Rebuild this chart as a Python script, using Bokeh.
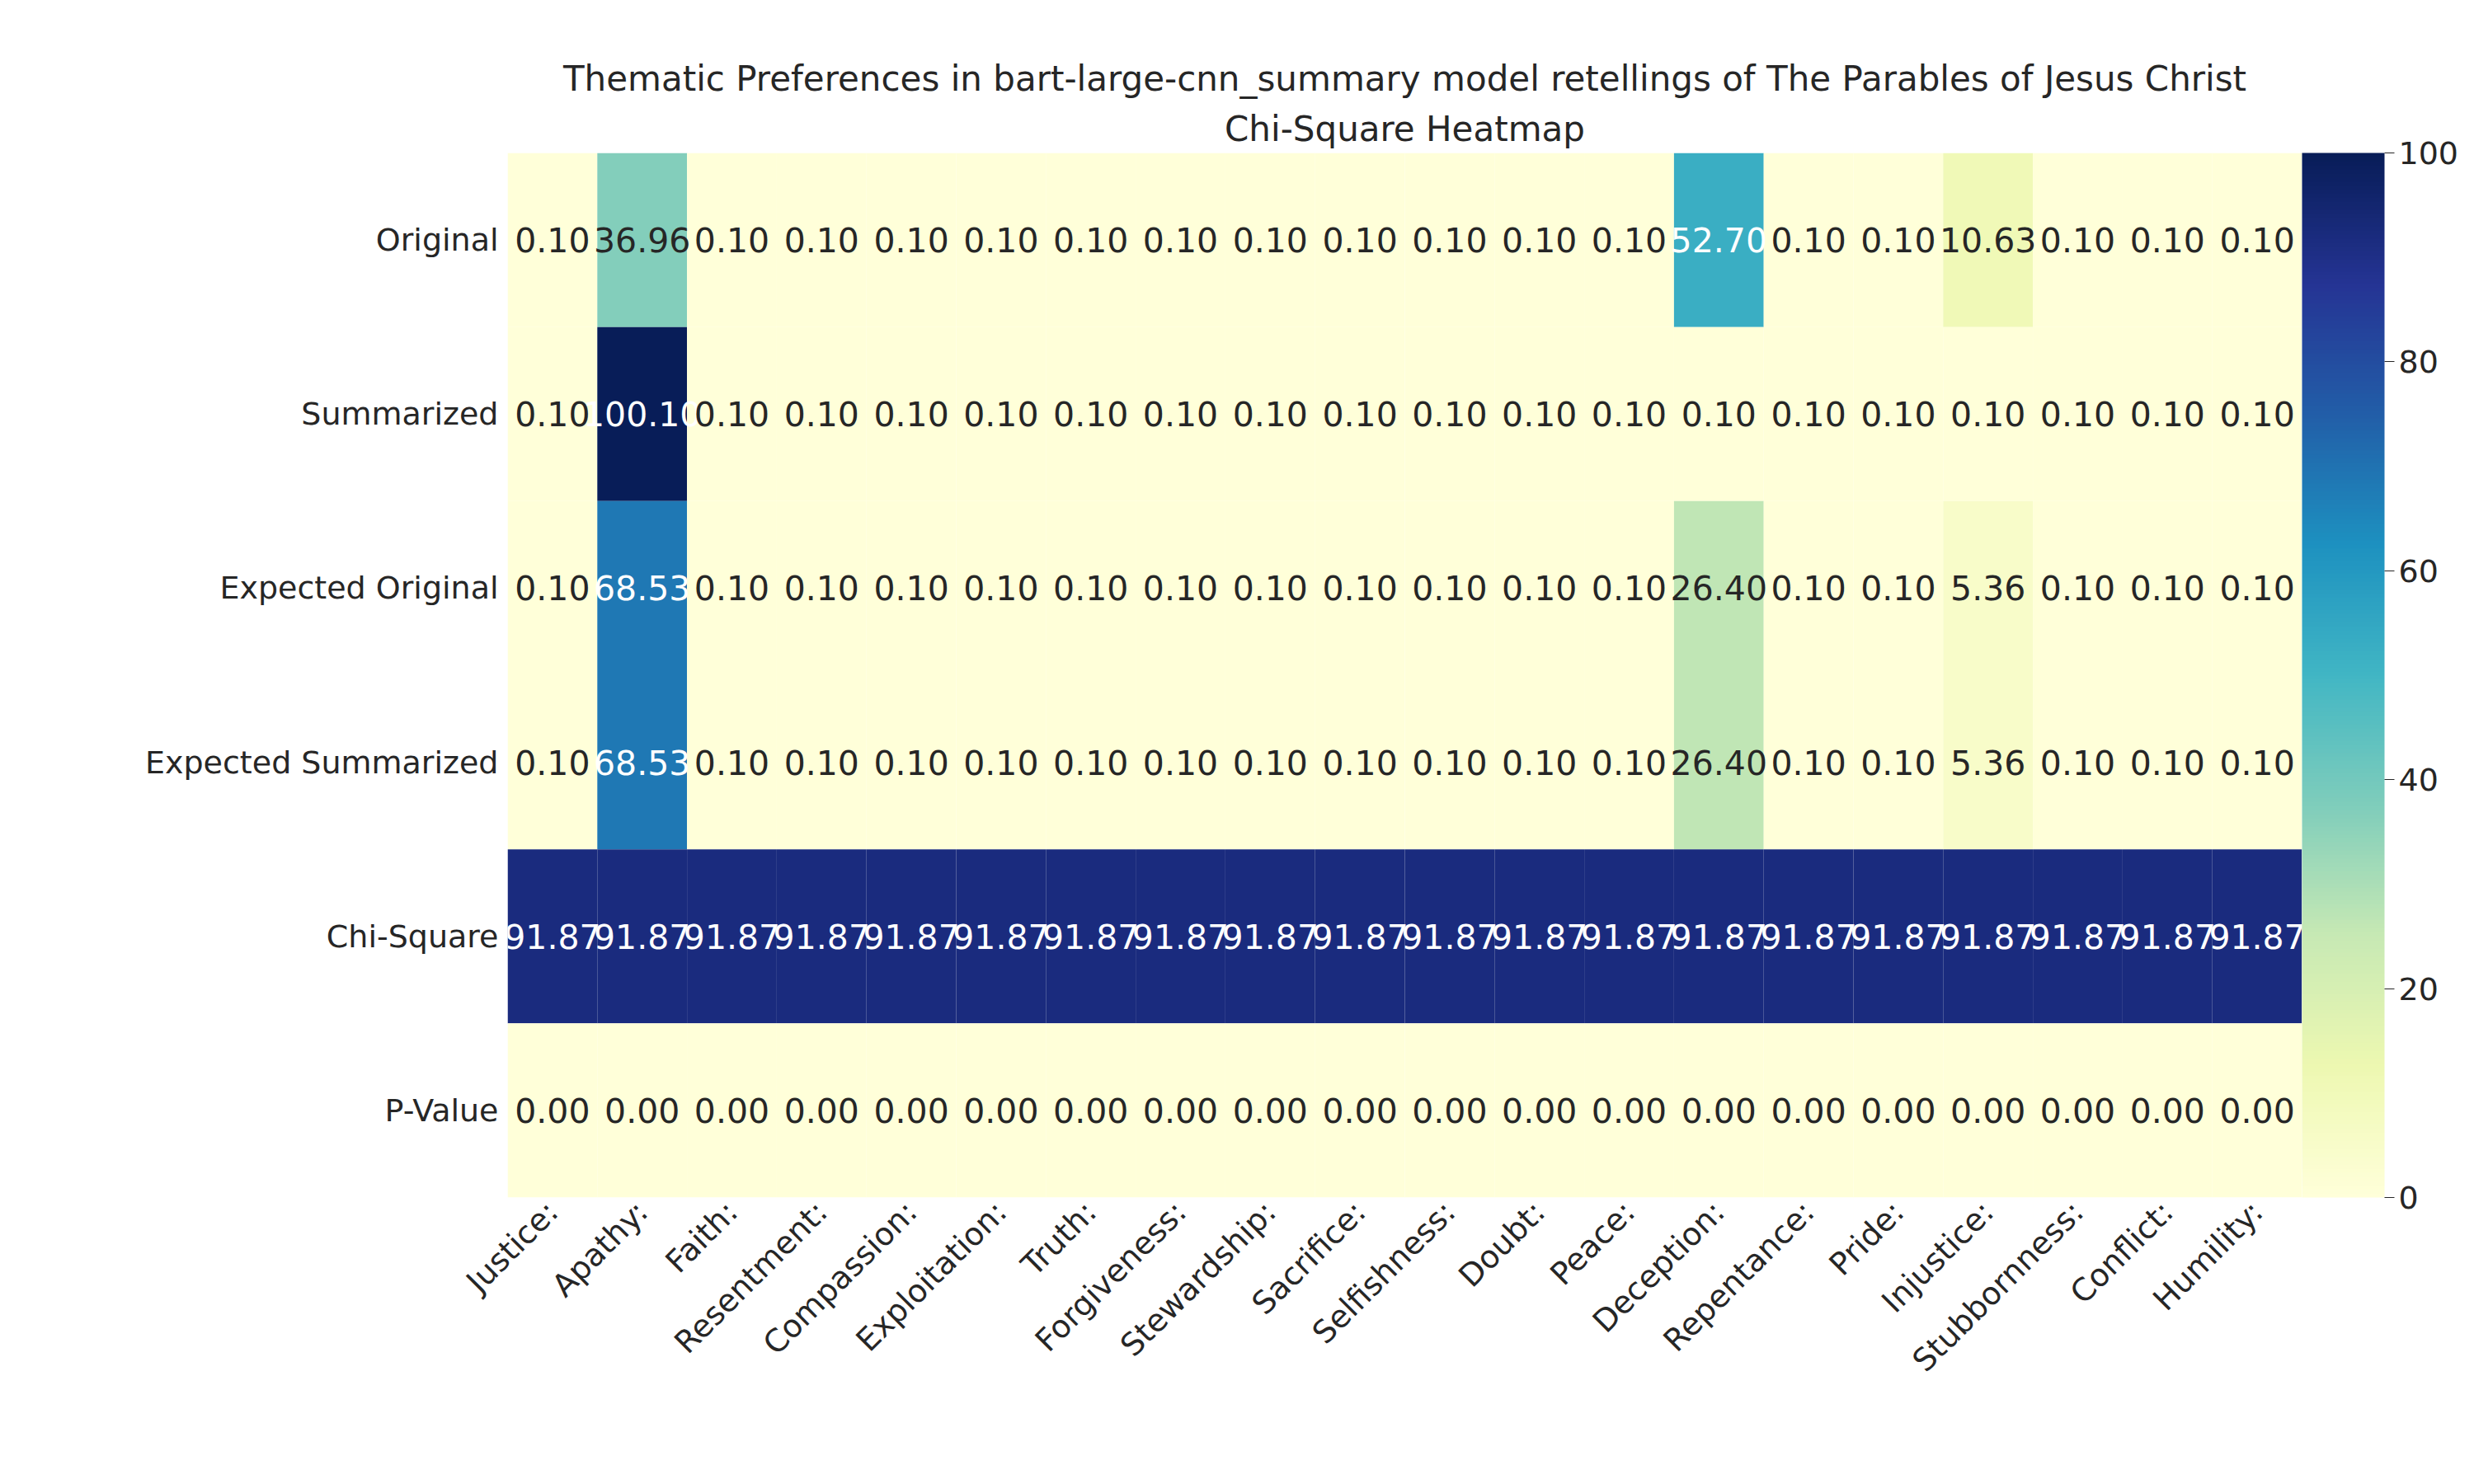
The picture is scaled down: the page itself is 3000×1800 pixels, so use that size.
from math import pi
from bokeh.plotting import figure
from bokeh.models import ColumnDataSource, LinearColorMapper, ColorBar, FixedTicker, Title
from bokeh.palettes import YlGnBu9
from bokeh.core.properties import value
from bokeh.embed import file_html
from bokeh.resources import INLINE

themes = ["Justice:", "Apathy:", "Faith:", "Resentment:", "Compassion:", "Exploitation:",
          "Truth:", "Forgiveness:", "Stewardship:", "Sacrifice:", "Selfishness:", "Doubt:",
          "Peace:", "Deception:", "Repentance:", "Pride:", "Injustice:", "Stubbornness:",
          "Conflict:", "Humility:"]
rows = ["Original", "Summarized", "Expected Original", "Expected Summarized", "Chi-Square", "P-Value"]

original = [0.10, 36.96, 0.10, 0.10, 0.10, 0.10, 0.10, 0.10, 0.10, 0.10,
            0.10, 0.10, 0.10, 52.70, 0.10, 0.10, 10.63, 0.10, 0.10, 0.10]
summarized = [0.10, 100.10, 0.10, 0.10, 0.10, 0.10, 0.10, 0.10, 0.10, 0.10,
              0.10, 0.10, 0.10, 0.10, 0.10, 0.10, 0.10, 0.10, 0.10, 0.10]
expected_original = [0.10, 68.53, 0.10, 0.10, 0.10, 0.10, 0.10, 0.10, 0.10, 0.10,
                     0.10, 0.10, 0.10, 26.40, 0.10, 0.10, 5.36, 0.10, 0.10, 0.10]
expected_summarized = [0.10, 68.53, 0.10, 0.10, 0.10, 0.10, 0.10, 0.10, 0.10, 0.10,
                       0.10, 0.10, 0.10, 26.40, 0.10, 0.10, 5.36, 0.10, 0.10, 0.10]
chi_square = [91.87] * 20
p_value = [0.00] * 20

table = [original, summarized, expected_original, expected_summarized, chi_square, p_value]


def smooth_palette(stops, n=256):
    rgb = [tuple(int(c[i:i + 2], 16) for i in (1, 3, 5)) for c in stops]
    out = []
    for k in range(n):
        t = k / (n - 1) * (len(rgb) - 1)
        i = min(int(t), len(rgb) - 2)
        f = t - i
        a, b = rgb[i], rgb[i + 1]
        out.append("#%02x%02x%02x" % tuple(round(a[j] + (b[j] - a[j]) * f) for j in range(3)))
    return out


xs, ys, vals, labels, colors = [], [], [], [], []
for r, row in zip(rows, table):
    for t, v in zip(themes, row):
        xs.append(t)
        ys.append(r)
        vals.append(v)
        labels.append("%.2f" % v)
        colors.append("white" if v > 50 else "#262626")
source = ColumnDataSource(dict(x=xs, y=ys, v=vals, label=labels, color=colors))

mapper = LinearColorMapper(palette=smooth_palette(list(reversed(YlGnBu9))), low=0, high=100)

p = figure(x_range=themes, y_range=list(reversed(rows)), width=2984, height=1780,
           output_backend="svg", toolbar_location=None, tools="",
           min_border_left=615, min_border_right=100, min_border_top=185, min_border_bottom=328)
p.outline_line_color = None
p.grid.visible = False

p.rect(x="x", y="y", width=1, height=1, source=source, line_color=None,
       fill_color={"field": "v", "transform": mapper})
p.text(x="x", y="y", text="label", source=source, text_align="center", text_baseline="middle",
       text_color="color", text_font=value("DejaVu Sans"), text_font_size="41px")

for ax in (p.xaxis, p.yaxis):
    ax.axis_line_color = None
    ax.major_tick_line_color = None
    ax.minor_tick_line_color = None
    ax.major_label_text_font = "DejaVu Sans"
    ax.major_label_text_font_size = "38px"
    ax.major_label_text_color = "#262626"
p.xaxis.major_label_orientation = pi / 4

cb = ColorBar(color_mapper=mapper, width=100, padding=0, margin=0,
              ticker=FixedTicker(ticks=[0, 20, 40, 60, 80, 100]),
              major_tick_in=0, major_tick_out=12, major_tick_line_color="#262626",
              major_label_text_font="DejaVu Sans", major_label_text_font_size="38px",
              major_label_text_color="#262626", bar_line_color=None, minor_tick_line_color=None)
p.add_layout(cb, "right")

p.add_layout(Title(text="Chi-Square Heatmap", align="center", text_font="DejaVu Sans",
                   text_font_size="42px", text_font_style="normal", text_color="#262626"), "above")
p.add_layout(Title(text="Thematic Preferences in bart-large-cnn_summary model retellings of The Parables of Jesus Christ",
                   align="center", text_font="DejaVu Sans", text_font_size="42px",
                   text_font_style="normal", text_color="#262626"), "above")

open("out.html", "w").write(file_html(p, INLINE))
